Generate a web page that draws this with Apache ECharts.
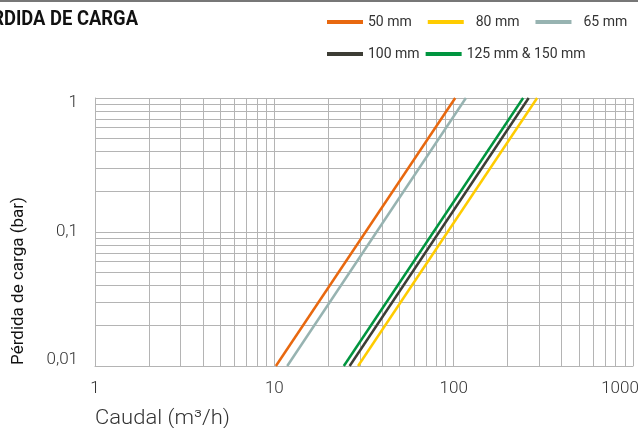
<!DOCTYPE html>
<html>
<head>
<meta charset="utf-8">
<script src="https://cdn.jsdelivr.net/npm/echarts@6/dist/echarts.min.js"></script>
<style>html,body{margin:0;padding:0;background:#fff}#c{width:638px;height:428px}</style>
</head>
<body>
<div id="c"></div>
<script>
// Pressure drop (bar) endpoints shared by all curves
const pressures = [0.01, 1];
// Flow (m3/h) at those pressures, per diameter
const q50 = [10.2, 102];
const q80 = [29.3, 292];
const q65 = [11.8, 117];
const q100 = [26.3, 262];
const q125 = [24.4, 244];
const seriesNames = ['50 mm', '80 mm', '65 mm', '100 mm', '125 mm & 150 mm'];
const seriesColors = ['#E8680F', '#FFCC00', '#97B3B1', '#3D3D35', '#00953F'];
const xTickLabels = ['1', '10', '100', '1000'];
const yTickLabels = ['0,01', '0,1', '1'];

const flows = [q50, q80, q65, q100, q125];
const gridColor = '#b4b4b4';

const xMinor = [], yMinor = [];
[1, 10, 100].forEach(d => { for (let k = 2; k <= 9; k++) xMinor.push(k * d); });
[0.01, 0.1].forEach(d => { for (let k = 2; k <= 9; k++) yMinor.push(+(k * d).toFixed(3)); });

const series = flows.map((q, i) => ({
  name: seriesNames[i],
  type: 'line',
  data: q.map((v, j) => [v, pressures[j]]),
  symbol: 'none',
  z: 10,
  lineStyle: { color: seriesColors[i], width: 2.5 },
  itemStyle: { color: seriesColors[i] },
  silent: true
}));
series.push({
  type: 'line',
  data: [],
  z: 1,
  silent: true,
  markLine: {
    silent: true,
    symbol: 'none',
    animation: false,
    label: { show: false },
    lineStyle: { color: gridColor, width: 1, type: 'solid' },
    data: xMinor.map(v => ({ xAxis: v })).concat(yMinor.map(v => ({ yAxis: v })))
  }
});

const labelFont = { fontFamily: 'Roboto', fontWeight: 300, color: '#333', fontSize: 17 };
const legendText = { fontFamily: 'Roboto', fontSize: 14, color: '#333' };

const chart = echarts.init(document.getElementById('c'), null, { renderer: 'canvas' });
chart.setOption({
  animation: false,
  backgroundColor: '#fff',
  grid: { left: 95, right: 5, top: 98, bottom: 62, containLabel: false, outerBoundsMode: 'none' },
  legend: [
    {
      data: seriesNames.slice(0, 3), left: 327, top: 15, padding: 0, icon: 'rect',
      itemWidth: 36, itemHeight: 4, itemGap: 16, textStyle: legendText,
      formatter: n => (n === '50 mm' ? n : '  ' + n), selectedMode: false
    },
    {
      data: seriesNames.slice(3), left: 327, top: 47, padding: 0, icon: 'rect',
      itemWidth: 36, itemHeight: 4, itemGap: 6, textStyle: legendText, selectedMode: false
    }
  ],
  xAxis: {
    type: 'log', logBase: 10, min: 1, max: 1000,
    axisLine: { show: true, lineStyle: { color: gridColor, width: 1 } },
    axisTick: { show: false },
    splitLine: { show: true, lineStyle: { color: gridColor, width: 1 } },
    axisLabel: Object.assign({}, labelFont, {
      margin: 14,
      formatter: v => {
        const idx = Math.round(Math.log10(v));
        return idx === 3 ? '{r|' + xTickLabels[idx] + '}' : xTickLabels[idx];
      },
      rich: { r: Object.assign({}, labelFont, { padding: [0, 26, 0, 0] }) }
    })
  },
  yAxis: {
    type: 'log', logBase: 10, min: 0.01, max: 1,
    axisLine: { show: true, lineStyle: { color: gridColor, width: 1 } },
    axisTick: { show: false },
    splitLine: { show: true, lineStyle: { color: gridColor, width: 1 } },
    axisLabel: Object.assign({}, labelFont, {
      margin: 17,
      formatter: v => {
        const idx = Math.round(Math.log10(v)) + 2;
        if (idx === 2) return '{t|' + yTickLabels[idx] + '}';
        if (idx === 0) return '{b|' + yTickLabels[idx] + '}';
        return yTickLabels[idx];
      },
      rich: {
        t: Object.assign({}, labelFont, { padding: [10, 0, 0, 0] }),
        b: Object.assign({}, labelFont, { padding: [0, 0, 12, 0] })
      }
    })
  },
  graphic: [
    { type: 'rect', left: 0, top: 0, shape: { width: 638, height: 2 }, style: { fill: '#777' }, silent: true },
    {
      type: 'text', x: 138, y: 10, scaleX: 0.92,
      style: {
        text: 'PÉRDIDA DE CARGA', align: 'right', verticalAlign: 'top',
        font: 'bold 20px Roboto, sans-serif',
        fill: '#111'
      }, silent: true
    },
    {
      type: 'text', x: 19, y: 281, rotation: Math.PI / 2,
      style: {
        text: 'Pérdida de carga (bar)', align: 'center', verticalAlign: 'middle',
        font: '17px Roboto, sans-serif', fill: '#111'
      }, silent: true
    },
    {
      type: 'text', x: 95, y: 419, scaleX: 1.1,
      style: {
        text: 'Caudal (m³/h)', align: 'left', verticalAlign: 'middle',
        font: '300 20px Roboto, sans-serif', fill: '#333'
      }, silent: true
    }
  ],
  series: series
});
</script>
</body>
</html>
